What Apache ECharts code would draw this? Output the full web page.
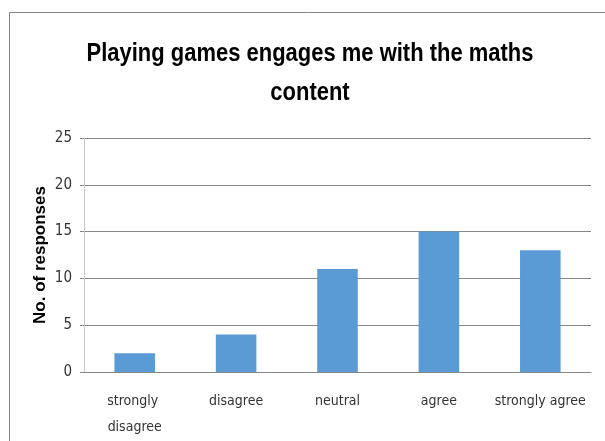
<!DOCTYPE html>
<html>
<head>
<meta charset="utf-8">
<script src="https://cdn.jsdelivr.net/npm/echarts@6/dist/echarts.min.js"></script>
<style>
  html, body { margin: 0; padding: 0; background: #fff; }
  #chart { width: 605px; height: 441px; }
</style>
</head>
<body>
<div id="chart"></div>
<script>
// Survey responses to the statement in the title
const categories = ['strongly disagree', 'disagree', 'neutral', 'agree', 'strongly agree'];
const responses = [2, 4, 11, 15, 13];
const yTicks = { min: 0, max: 25, interval: 5 };
const titleLines = ['Playing games engages me with the maths', 'content'];

const narrow = '"DejaVu Sans Condensed", "Liberation Sans", sans-serif';

// Title set in a tall, tightly spaced bold face
const titleFont = {
  fontFamily: '"Liberation Sans", Arial, sans-serif',
  fontWeight: 'bold',
  fontSize: 26,
  fill: '#000000',
  align: 'center',
  verticalAlign: 'middle'
};
const titleSquash = 0.845;

const chart = echarts.init(document.getElementById('chart'), null, { renderer: 'canvas' });
chart.setOption({
  animation: false,
  backgroundColor: '#ffffff',
  graphic: [
    {
      type: 'rect',
      shape: { x: 9.5, y: 12.5, width: 640, height: 480 },
      style: { fill: 'none', stroke: '#878787', lineWidth: 1 },
      silent: true
    },
    {
      type: 'text',
      x: 310, y: 54, scaleX: titleSquash,
      style: Object.assign({ text: titleLines[0] }, titleFont),
      silent: true
    },
    {
      type: 'text',
      x: 310, y: 93, scaleX: titleSquash,
      style: Object.assign({ text: titleLines[1] }, titleFont),
      silent: true
    }
  ],
  grid: { left: 84, right: 14, top: 138, bottom: 69, containLabel: false },
  xAxis: {
    type: 'category',
    data: categories,
    axisLine: { show: true, lineStyle: { color: '#878787', width: 1 } },
    axisTick: { show: false },
    axisLabel: {
      interval: 0,
      margin: 16,
      width: 100,
      overflow: 'break',
      fontFamily: narrow,
      fontSize: 14,
      lineHeight: 26,
      color: '#333333'
    }
  },
  yAxis: {
    type: 'value',
    min: yTicks.min,
    max: yTicks.max,
    interval: yTicks.interval,
    name: 'No. of responses',
    nameLocation: 'middle',
    nameGap: 35,
    nameMoveOverlap: false,
    nameTextStyle: {
      fontFamily: '"Liberation Sans", Arial, sans-serif',
      fontWeight: 'bold',
      fontSize: 17,
      color: '#000000'
    },
    axisLine: { show: true, lineStyle: { color: '#c8c8c8', width: 1 } },
    axisTick: { show: true, length: 4, lineStyle: { color: '#878787' } },
    axisLabel: {
      margin: 12,
      fontFamily: narrow,
      fontSize: 15,
      color: '#333333'
    },
    splitLine: { show: true, lineStyle: { color: '#878787', width: 1 } }
  },
  series: [{
    type: 'bar',
    data: responses,
    barWidth: '40%',
    itemStyle: { color: '#5b9bd5' }
  }]
});
</script>
</body>
</html>
